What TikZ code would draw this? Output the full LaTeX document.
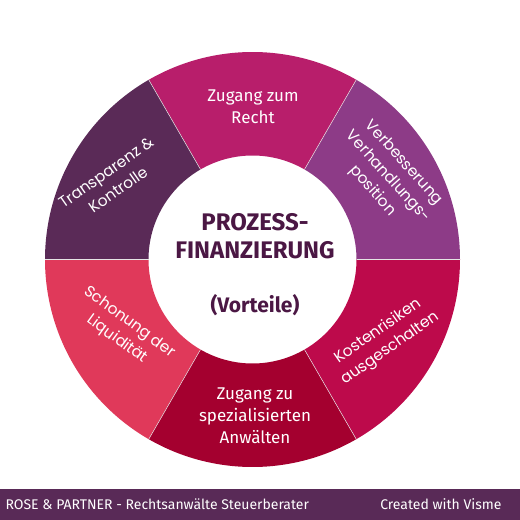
\documentclass[tikz,border=0pt]{standalone}
\usepackage{fontspec}
\setmainfont{Fira Sans}
\newfontfamily\roundfont{Poppins}
\usepackage{xcolor}
\usepackage{tikz}
\usetikzlibrary{positioning}
\definecolor{zugang}{HTML}{B81E6B}
\definecolor{verbess}{HTML}{8D3B87}
\definecolor{kosten}{HTML}{BD0A4B}
\definecolor{spezial}{HTML}{A4002F}
\definecolor{schonung}{HTML}{E0395A}
\definecolor{transp}{HTML}{5A2A57}
\definecolor{kern}{HTML}{4B1744}
\definecolor{fuss}{HTML}{592A57}

\begin{document}
\begin{tikzpicture}[x=1pt,y=1pt,
  label/.style={text=white,align=center,font=\fontsize{17}{22}\selectfont},
  rlabel/.style={text=white,align=center,font=\roundfont\fontsize{15.5}{21}\selectfont},
  center/.style={text=kern,align=center,font=\bfseries\fontsize{24}{28}\selectfont},
  foot/.style={text=white,font=\fontsize{14}{16}\selectfont}]
  \useasboundingbox[fill=white] (0,0) rectangle (520,520);

  % ring of six segments
  \begin{scope}[shift={(252.5,260.5)}]
    \foreach \a/\col in {0/verbess,60/zugang,120/transp,180/schonung,240/spezial,300/kosten}
      \fill[\col] (\a:207.5) arc[start angle=\a,end angle=\a+60,radius=207.5]
        -- (\a+60:104) arc[start angle=\a+60,end angle=\a,radius=104] -- cycle;
    \foreach \a in {0,60,...,300}
      \draw[white!80!gray,line width=0.5pt] (\a:104) -- (\a:207.5);
  \end{scope}

  % segment texts
  \node[label] (recht) at (253,413) {Zugang zum\\Recht};
  \node[rlabel,rotate=-48] (verhandlung) at (388,343) {Verbesserung\\Verhandlungs-\\position};
  \node[rlabel,rotate=35] (kontrolle) at (112,339) {Transparenz \&\\Kontrolle};
  \node[rlabel,rotate=-36] (liquiditaet) at (123,189) {Schonung der\\Liquidität};
  \node[rlabel,rotate=35] (kostenrisiken) at (384,180) {Kostenrisiken\\ausgeschalten};
  \node[label] (anwaelte) at (255,104) {Zugang zu\\spezialisierten\\Anwälten};

  % centre
  \node[center] (titel) at (255,284) {PROZESS-\\FINANZIERUNG};
  \node[center,font=\fontsize{21}{24}\selectfont\bfseries] (vorteile) at (255,215) {(Vorteile)};

  % footer bar
  \fill[fuss] (0,0) rectangle (520,31);
  \node[foot,anchor=west] (kanzlei) at (2,16) {ROSE \& PARTNER - Rechtsanwälte Steuerberater};
  \node[foot,anchor=east] (visme) at (505,16) {Created with Visme};
\end{tikzpicture}
\end{document}
